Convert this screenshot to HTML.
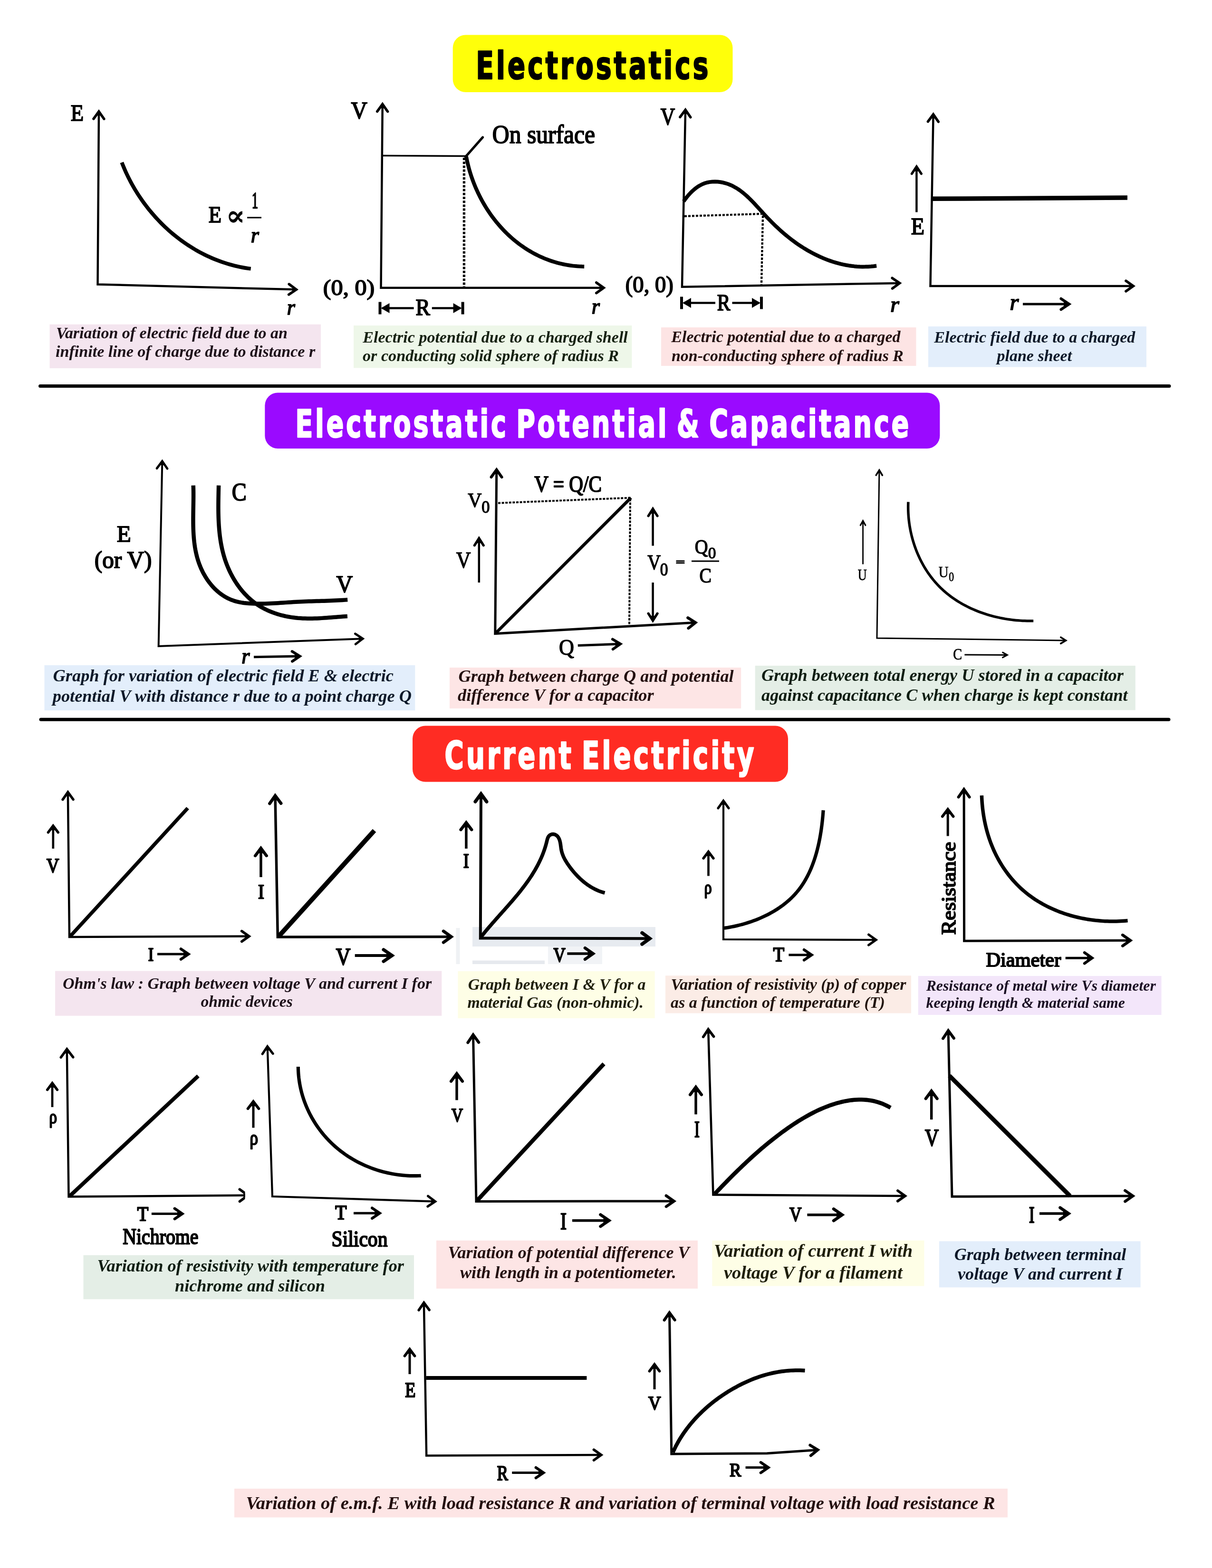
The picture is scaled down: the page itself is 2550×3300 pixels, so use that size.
<!DOCTYPE html>
<html lang="en">
<head>
<meta charset="utf-8">
<title>Graphs: Electrostatics, Capacitance, Current Electricity</title>
<style>
html,body{margin:0;padding:0;background:#fff;}
body{width:2550px;height:3300px;overflow:hidden;font-family:"Liberation Serif",serif;}
svg{display:block;position:absolute;left:0;top:0;}
svg path{fill:none;stroke:#000;}
svg text{white-space:pre;}
</style>
</head>
<body>
<svg width="2550" height="3300" viewBox="0 0 2550 3300">
<path d="M84.5 812.5L2460 812.5" stroke-width="7" stroke-linecap="round"/>
<path d="M86 1514.2L2459 1514.2" stroke-width="7" stroke-linecap="round"/>
<rect x="952.7" y="73.5" width="588.8" height="120.5" fill="#ffff0a" rx="27"/>
<text transform="translate(1001.58 165.92) scale(0.6076 0.8060)" font-family="&quot;DejaVu Sans Condensed&quot;, &quot;DejaVu Sans&quot;, sans-serif" font-size="100" font-weight="bold" font-style="normal" fill="#000" stroke="#000" stroke-width="2.4" stroke-linejoin="round" vector-effect="non-scaling-stroke" letter-spacing="8.5">Electrostatics</text>
<rect x="557.3" y="826.5" width="1420.1" height="117.5" fill="#9a0aff" rx="27"/>
<text transform="translate(621.58 919.92) scale(0.5971 0.7923)" font-family="&quot;DejaVu Sans Condensed&quot;, &quot;DejaVu Sans&quot;, sans-serif" font-size="100" font-weight="bold" font-style="normal" fill="#fff" stroke="#fff" stroke-width="2.4" stroke-linejoin="round" vector-effect="non-scaling-stroke" letter-spacing="8.5" word-spacing="-12">Electrostatic Potential &amp; Capacitance</text>
<rect x="868" y="1527.5" width="790" height="118.1" fill="#ff2c23" rx="27"/>
<text transform="translate(935.58 1618.42) scale(0.6083 0.8060)" font-family="&quot;DejaVu Sans Condensed&quot;, &quot;DejaVu Sans&quot;, sans-serif" font-size="100" font-weight="bold" font-style="normal" fill="#fff" stroke="#fff" stroke-width="2.4" stroke-linejoin="round" vector-effect="non-scaling-stroke" letter-spacing="8.5" word-spacing="-12">Current Electricity</text>
<rect x="104.5" y="682.7" width="570.5" height="92.3" fill="#f4e5ef"/>
<text x="118" y="712" font-family="&quot;Liberation Serif&quot;, serif" font-size="33.98" font-weight="bold" font-style="italic" fill="#1c0f18">Variation of electric field due to an</text>
<text x="117" y="750.5" font-family="&quot;Liberation Serif&quot;, serif" font-size="34.1" font-weight="bold" font-style="italic" fill="#1c0f18">infinite line of charge due to distance r</text>
<rect x="744" y="685" width="585.4" height="89.4" fill="#eef7e9"/>
<text x="763.34" y="721" font-family="&quot;Liberation Serif&quot;, serif" font-size="34.02" font-weight="bold" font-style="italic" fill="#14200f">Electric potential due to a charged shell</text>
<text x="763" y="760" font-family="&quot;Liberation Serif&quot;, serif" font-size="34.16" font-weight="bold" font-style="italic" fill="#14200f">or conducting solid sphere of radius R</text>
<rect x="1391" y="689" width="536.5" height="81" fill="#fde4e4"/>
<text x="1412.34" y="720" font-family="&quot;Liberation Serif&quot;, serif" font-size="33.97" font-weight="bold" font-style="italic" fill="#220d0d">Electric potential due to a charged</text>
<text x="1413" y="760" font-family="&quot;Liberation Serif&quot;, serif" font-size="33.91" font-weight="bold" font-style="italic" fill="#220d0d">non-conducting sphere of radius R</text>
<rect x="1953" y="687" width="459" height="85.5" fill="#e3eefb"/>
<text x="1965.34" y="721" font-family="&quot;Liberation Serif&quot;, serif" font-size="34.08" font-weight="bold" font-style="italic" fill="#0c1828">Electric field due to a charged</text>
<text x="2097.55" y="760" font-family="&quot;Liberation Serif&quot;, serif" font-size="33.97" font-weight="bold" font-style="italic" fill="#0c1828">plane sheet</text>
<rect x="93.5" y="1400" width="779.8" height="95.2" fill="#e3eefb"/>
<text x="111.6" y="1434" font-family="&quot;Liberation Serif&quot;, serif" font-size="36.33" font-weight="bold" font-style="italic" fill="#0c1828">Graph for variation of electric field E &amp; electric</text>
<text x="110.73" y="1476.5" font-family="&quot;Liberation Serif&quot;, serif" font-size="36.38" font-weight="bold" font-style="italic" fill="#0c1828">potential V with distance r due to a point charge Q</text>
<rect x="946" y="1405" width="613.2" height="86" fill="#fde5e5"/>
<text x="964.6" y="1435" font-family="&quot;Liberation Serif&quot;, serif" font-size="36.25" font-weight="bold" font-style="italic" fill="#220d0d">Graph between charge Q and potential</text>
<text x="963" y="1475" font-family="&quot;Liberation Serif&quot;, serif" font-size="36.36" font-weight="bold" font-style="italic" fill="#220d0d">difference V for a capacitor</text>
<rect x="1588.7" y="1401" width="800.1" height="93.5" fill="#e4eee6"/>
<text x="1602" y="1432.8" font-family="&quot;Liberation Serif&quot;, serif" font-size="36.29" font-weight="bold" font-style="italic" fill="#0d1c10">Graph between total energy U stored in a capacitor</text>
<text x="1602" y="1475" font-family="&quot;Liberation Serif&quot;, serif" font-size="36.28" font-weight="bold" font-style="italic" fill="#0d1c10">against capacitance C when charge is kept constant</text>
<rect x="116" y="2043.5" width="813.3" height="94.3" fill="#f4e5ef"/>
<text x="132" y="2080.5" font-family="&quot;Liberation Serif&quot;, serif" font-size="34.02" font-weight="bold" font-style="italic" fill="#1c0f18">Ohm's law : Graph between voltage V and current I for</text>
<text x="422.4" y="2118.7" font-family="&quot;Liberation Serif&quot;, serif" font-size="33.67" font-weight="bold" font-style="italic" fill="#1c0f18">ohmic devices</text>
<rect x="963.4" y="2044" width="414.2" height="99" fill="#fefee6"/>
<text x="984.7" y="2083" font-family="&quot;Liberation Serif&quot;, serif" font-size="33.87" font-weight="bold" font-style="italic" fill="#1e1e0a">Graph between I &amp; V for a</text>
<text x="983.6" y="2121.4" font-family="&quot;Liberation Serif&quot;, serif" font-size="33.75" font-weight="bold" font-style="italic" fill="#1e1e0a">material Gas (non-ohmic).</text>
<rect x="1400" y="2053.3" width="517" height="79.1" fill="#fbece6"/>
<text x="1411.4" y="2083" font-family="&quot;Liberation Serif&quot;, serif" font-size="33.96" font-weight="bold" font-style="italic" fill="#20120c">Variation of resistivity (p) of copper</text>
<text x="1411" y="2121.4" font-family="&quot;Liberation Serif&quot;, serif" font-size="34.04" font-weight="bold" font-style="italic" fill="#20120c">as a function of temperature (T)</text>
<rect x="1931.7" y="2054" width="511.9" height="82" fill="#f3e6fa"/>
<text x="1948.66" y="2084.5" font-family="&quot;Liberation Serif&quot;, serif" font-size="31.8" font-weight="bold" font-style="italic" fill="#190d22">Resistance of metal wire Vs diameter</text>
<text x="1948.5" y="2120.8" font-family="&quot;Liberation Serif&quot;, serif" font-size="31.79" font-weight="bold" font-style="italic" fill="#190d22">keeping length &amp; material same</text>
<rect x="175.5" y="2641.6" width="695.5" height="92.7" fill="#e4eee6"/>
<text x="204.4" y="2676" font-family="&quot;Liberation Serif&quot;, serif" font-size="36.26" font-weight="bold" font-style="italic" fill="#0d1c10">Variation of resistivity with temperature for</text>
<text x="368" y="2718" font-family="&quot;Liberation Serif&quot;, serif" font-size="36.22" font-weight="bold" font-style="italic" fill="#0d1c10">nichrome and silicon</text>
<rect x="918" y="2610.7" width="550" height="101.3" fill="#fde5e5"/>
<text x="942.5" y="2647.8" font-family="&quot;Liberation Serif&quot;, serif" font-size="36.05" font-weight="bold" font-style="italic" fill="#220d0d">Variation of potential difference V</text>
<text x="968" y="2689.7" font-family="&quot;Liberation Serif&quot;, serif" font-size="36.15" font-weight="bold" font-style="italic" fill="#220d0d">with length in a potentiometer.</text>
<rect x="1498.4" y="2610.7" width="446.1" height="95.9" fill="#fefee6"/>
<text x="1502" y="2645" font-family="&quot;Liberation Serif&quot;, serif" font-size="38.38" font-weight="bold" font-style="italic" fill="#1e1e0a">Variation of current I with</text>
<text x="1523" y="2691" font-family="&quot;Liberation Serif&quot;, serif" font-size="38.51" font-weight="bold" font-style="italic" fill="#1e1e0a">voltage V for a filament</text>
<rect x="1976" y="2612.3" width="423.6" height="97.1" fill="#e3eefb"/>
<text x="2007.7" y="2651.6" font-family="&quot;Liberation Serif&quot;, serif" font-size="36.17" font-weight="bold" font-style="italic" fill="#0c1828">Graph between terminal</text>
<text x="2015" y="2693" font-family="&quot;Liberation Serif&quot;, serif" font-size="36.16" font-weight="bold" font-style="italic" fill="#0c1828">voltage V and current I</text>
<rect x="493" y="3133" width="1627" height="60.5" fill="#fde5e5"/>
<text x="517.4" y="3176" font-family="&quot;Liberation Serif&quot;, serif" font-size="38.6" font-weight="bold" font-style="italic" fill="#220d0d">Variation of e.m.f. E with load resistance R and variation of terminal voltage with load resistance R</text>
<path d="M207.96 235.16L205.5 598.5L622.84 609.37" stroke-width="4.5" stroke-linejoin="miter"/>
<path d="M213.42 242.44L207.97 234.66L202.42 242.36L207.91 243.48Z" style="fill:#000;stroke:none"/>
<path d="M218.86 250.22L207.97 234.66L196.86 250.07" stroke-width="5.4" stroke-linecap="round" stroke-linejoin="miter"/>
<path d="M615.46 614.68L623.34 609.38L615.75 603.68L614.52 609.15Z" style="fill:#000;stroke:none"/>
<path d="M607.58 619.97L623.34 609.38L608.15 597.98" stroke-width="5.4" stroke-linecap="round" stroke-linejoin="miter"/>
<path d="M256.28 341.9L258.35 347.16L260.5 352.39L262.74 357.59L265.05 362.76L267.45 367.89L269.93 372.99L272.49 378.05L275.13 383.07L277.84 388.05L280.63 393L283.5 397.9L286.44 402.75L289.46 407.57L292.55 412.33L295.71 417.05L298.95 421.72L302.26 426.35L305.63 430.92L309.08 435.44L312.59 439.91L316.17 444.32L319.82 448.68L323.54 452.98L327.32 457.22L331.16 461.4L335.07 465.53L339.03 469.59L343.06 473.58L347.16 477.52L351.31 481.38L355.52 485.18L359.79 488.92L364.11 492.58L368.49 496.17L372.93 499.69L377.42 503.14L381.97 506.51L386.57 509.81L391.22 513.03L395.92 516.17L400.68 519.23L405.48 522.21L410.33 525.11L415.23 527.93L420.18 530.66L425.17 533.3L430.21 535.86L435.29 538.33L440.42 540.72L445.59 543.01L450.8 545.21L456.05 547.31L461.34 549.32L466.67 551.24L472.04 553.06L477.45 554.78L482.89 556.4L488.37 557.92L493.89 559.33L499.44 560.65L505.02 561.86L510.64 562.96L516.28 563.96L521.96 564.85L527.67 565.63" stroke-width="8" stroke-linecap="butt" stroke-linejoin="round"/>
<text transform="translate(148.85 254.15) scale(0.4474 0.4930)" font-family="&quot;Liberation Serif&quot;, serif" font-size="100" font-weight="normal" font-style="normal" fill="#000" stroke="#000" stroke-width="1.9" stroke-linejoin="round" vector-effect="non-scaling-stroke">E</text>
<text transform="translate(438.86 468.14) scale(0.4474 0.4930)" font-family="&quot;Liberation Serif&quot;, serif" font-size="100" font-weight="normal" font-style="normal" fill="#000" stroke="#000" stroke-width="1.9" stroke-linejoin="round" vector-effect="non-scaling-stroke">E</text>
<text transform="translate(475.43 473.77) scale(0.5993 0.5910)" font-family="&quot;DejaVu Serif&quot;, serif" font-size="100" font-weight="bold" font-style="normal" fill="#000" stroke="#000" stroke-width="0.5" stroke-linejoin="round" vector-effect="non-scaling-stroke">∝</text>
<text transform="translate(529.86 438.14) scale(0.2658 0.4892)" font-family="&quot;Liberation Serif&quot;, serif" font-size="100" font-weight="normal" font-style="normal" fill="#000" stroke="#000" stroke-width="1.9" stroke-linejoin="round" vector-effect="non-scaling-stroke">1</text>
<path d="M520 458L550 458" stroke-width="3" stroke-linecap="butt" />
<text transform="translate(527.81 510.19) scale(0.4400 0.4549)" font-family="&quot;Liberation Serif&quot;, serif" font-size="100" font-weight="normal" font-style="italic" fill="#000" stroke="#000" stroke-width="1.8" stroke-linejoin="round" vector-effect="non-scaling-stroke">r</text>
<text transform="translate(603.81 662.19) scale(0.4400 0.4549)" font-family="&quot;Liberation Serif&quot;, serif" font-size="100" font-weight="normal" font-style="italic" fill="#000" stroke="#000" stroke-width="1.8" stroke-linejoin="round" vector-effect="non-scaling-stroke">r</text>
<path d="M804.76 219.66L801.5 605.7L1269.64 605.7" stroke-width="4.5" stroke-linejoin="miter"/>
<path d="M810.2 226.95L804.76 219.16L799.2 226.85L804.69 227.98Z" style="fill:#000;stroke:none"/>
<path d="M815.63 234.73L804.76 219.16L793.63 234.55" stroke-width="5.4" stroke-linecap="round" stroke-linejoin="miter"/>
<path d="M1262.4 611.2L1270.14 605.7L1262.4 600.2L1261.32 605.7Z" style="fill:#000;stroke:none"/>
<path d="M1254.66 616.7L1270.14 605.7L1254.66 594.7" stroke-width="5.4" stroke-linecap="round" stroke-linejoin="miter"/>
<path d="M804 327.5L980.4 328.5" stroke-width="3.6" stroke-linecap="butt" />
<path d="M979.5 330L1015.6 289" stroke-width="5" stroke-linecap="round" />
<path d="M976.4 332L976.4 604" stroke-width="5.2" stroke-dasharray="5 3.2"/>
<path d="M980.99 329.57L981.88 334.2L982.85 338.83L983.88 343.45L985 348.05L986.18 352.65L987.44 357.23L988.77 361.79L990.18 366.34L991.65 370.87L993.2 375.38L994.81 379.87L996.5 384.34L998.25 388.79L1000.07 393.21L1001.97 397.6L1003.93 401.96L1005.95 406.3L1008.05 410.61L1010.21 414.88L1012.43 419.12L1014.72 423.33L1017.08 427.5L1019.5 431.63L1021.98 435.72L1024.53 439.78L1027.13 443.79L1029.81 447.75L1032.54 451.68L1035.33 455.55L1038.19 459.38L1041.1 463.16L1044.08 466.89L1047.11 470.57L1050.2 474.2L1053.35 477.77L1056.56 481.28L1059.82 484.74L1063.14 488.14L1066.52 491.48L1069.95 494.75L1073.44 497.97L1076.98 501.12L1080.58 504.2L1084.23 507.22L1087.93 510.17L1091.68 513.05L1095.48 515.86L1099.33 518.59L1103.23 521.26L1107.18 523.85L1111.18 526.36L1115.22 528.79L1119.31 531.15L1123.44 533.43L1127.62 535.63L1131.84 537.74L1136.11 539.77L1140.41 541.72L1144.76 543.58L1149.15 545.36L1153.58 547.04L1158.04 548.64L1162.55 550.14L1167.09 551.55L1171.67 552.87L1176.29 554.09L1180.94 555.22L1185.62 556.25L1190.34 557.18L1195.09 558.01L1199.87 558.74L1204.69 559.37L1209.53 559.89L1214.41 560.31L1219.31 560.62L1224.25 560.83L1229.21 560.92" stroke-width="8" stroke-linecap="butt" stroke-linejoin="round"/>
<text transform="translate(738.56 249.38) scale(0.4762 0.5118)" font-family="&quot;Liberation Serif&quot;, serif" font-size="100" font-weight="normal" font-style="normal" fill="#000" stroke="#000" stroke-width="1.9" stroke-linejoin="round" vector-effect="non-scaling-stroke">V</text>
<text transform="translate(1035.86 300.6) scale(0.4961 0.5416)" font-family="&quot;Liberation Serif&quot;, serif" font-size="100" font-weight="normal" font-style="normal" fill="#000" stroke="#000" stroke-width="1.9" stroke-linejoin="round" vector-effect="non-scaling-stroke">On surface</text>
<text transform="translate(679.86 621.39) scale(0.5002 0.4537)" font-family="&quot;Liberation Serif&quot;, serif" font-size="100" font-weight="normal" font-style="normal" fill="#000" stroke="#000" stroke-width="1.9" stroke-linejoin="round" vector-effect="non-scaling-stroke">(0, 0)</text>
<text transform="translate(1244.81 660.19) scale(0.4400 0.4549)" font-family="&quot;Liberation Serif&quot;, serif" font-size="100" font-weight="normal" font-style="italic" fill="#000" stroke="#000" stroke-width="1.8" stroke-linejoin="round" vector-effect="non-scaling-stroke">r</text>
<path d="M799.5 635.5L799.5 661.5" stroke-width="6" stroke-linecap="butt" />
<path d="M973.6 635.5L973.6 661.5" stroke-width="6" stroke-linecap="butt" />
<path d="M804.5 648.5L870.6 648.5" stroke-width="4.6" stroke-linecap="butt" />
<path d="M908.8 648.5L968.6 648.5" stroke-width="4.6" stroke-linecap="butt" />
<path d="M801.5 648.5L819.5 638L819.5 659Z" style="fill:#000;stroke:none"/>
<path d="M971.6 648.5L953.6 638L953.6 659Z" style="fill:#000;stroke:none"/>
<text transform="translate(874.46 663.14) scale(0.4551 0.4853)" font-family="&quot;Liberation Serif&quot;, serif" font-size="100" font-weight="normal" font-style="normal" fill="#000" stroke="#000" stroke-width="1.9" stroke-linejoin="round" vector-effect="non-scaling-stroke">R</text>
<path d="M1442.1 231.66L1435 603.7L1892.34 595.89" stroke-width="4.5" stroke-linejoin="miter"/>
<path d="M1447.46 239L1442.11 231.16L1436.46 238.79L1441.94 239.98Z" style="fill:#000;stroke:none"/>
<path d="M1452.81 246.85L1442.11 231.16L1430.82 246.43" stroke-width="5.4" stroke-linecap="round" stroke-linejoin="miter"/>
<path d="M1885.19 601.51L1892.84 595.88L1885.01 590.51L1884.02 596.03Z" style="fill:#000;stroke:none"/>
<path d="M1877.55 607.14L1892.84 595.88L1877.17 585.15" stroke-width="5.4" stroke-linecap="round" stroke-linejoin="miter"/>
<path d="M1438.45 423.81L1441.63 419.29L1445.1 414.75L1448.86 410.25L1452.88 405.87L1457.16 401.67L1461.68 397.73L1466.42 394.12L1471.37 390.91L1476.51 388.16L1481.84 385.94L1487.32 384.27L1492.91 383.11L1498.59 382.45L1504.32 382.26L1510.06 382.52L1515.78 383.21L1521.44 384.29L1527.01 385.76L1532.46 387.57L1537.75 389.72L1542.87 392.17L1547.83 394.9L1552.64 397.9L1557.33 401.13L1561.88 404.58L1566.33 408.23L1570.68 412.05L1574.94 416.01L1579.13 420.1L1583.24 424.29L1587.31 428.57L1591.34 432.9L1595.33 437.27L1599.31 441.65L1603.28 446.02L1607.25 450.37L1611.24 454.66L1615.25 458.89L1619.29 463.07L1623.35 467.19L1627.45 471.26L1631.58 475.26L1635.75 479.21L1639.97 483.1L1644.23 486.92L1648.55 490.69L1652.92 494.39L1657.35 498.03L1661.85 501.6L1666.41 505.1L1671.04 508.54L1675.72 511.9L1680.47 515.18L1685.28 518.38L1690.15 521.5L1695.08 524.53L1700.06 527.46L1705.09 530.3L1710.17 533.04L1715.31 535.68L1720.5 538.21L1725.73 540.63L1731.01 542.94L1736.34 545.12L1741.71 547.19L1747.12 549.13L1752.58 550.95L1758.07 552.63L1763.6 554.17L1769.17 555.58L1774.77 556.84L1780.4 557.96L1786.07 558.93L1791.77 559.74L1797.5 560.4L1803.25 560.89L1809.03 561.22L1814.84 561.38L1820.67 561.37L1826.52 561.19L1832.39 560.82L1838.28 560.28L1844.19 559.54" stroke-width="8" stroke-linecap="butt" stroke-linejoin="round"/>
<path d="M1440 455L1603 450" stroke-width="4.3" stroke-dasharray="5 3"/>
<path d="M1605 454L1602 599" stroke-width="4.3" stroke-dasharray="5 3"/>
<text transform="translate(1389.86 262.38) scale(0.4207 0.5118)" font-family="&quot;Liberation Serif&quot;, serif" font-size="100" font-weight="normal" font-style="normal" fill="#000" stroke="#000" stroke-width="1.9" stroke-linejoin="round" vector-effect="non-scaling-stroke">V</text>
<text transform="translate(1315.86 615.3) scale(0.4655 0.4812)" font-family="&quot;Liberation Serif&quot;, serif" font-size="100" font-weight="normal" font-style="normal" fill="#000" stroke="#000" stroke-width="1.9" stroke-linejoin="round" vector-effect="non-scaling-stroke">(0, 0)</text>
<text transform="translate(1873.31 656.19) scale(0.4780 0.4549)" font-family="&quot;Liberation Serif&quot;, serif" font-size="100" font-weight="normal" font-style="italic" fill="#000" stroke="#000" stroke-width="1.8" stroke-linejoin="round" vector-effect="non-scaling-stroke">r</text>
<path d="M1434 624.5L1434 650.5" stroke-width="6" stroke-linecap="butt" />
<path d="M1602 624.5L1602 650.5" stroke-width="6" stroke-linecap="butt" />
<path d="M1439 637.5L1505 637.5" stroke-width="4.6" stroke-linecap="butt" />
<path d="M1540.5 637.5L1597 637.5" stroke-width="4.6" stroke-linecap="butt" />
<path d="M1436 637.5L1454 627L1454 648Z" style="fill:#000;stroke:none"/>
<path d="M1600 637.5L1582 627L1582 648Z" style="fill:#000;stroke:none"/>
<text transform="translate(1508.86 653.14) scale(0.4148 0.4853)" font-family="&quot;Liberation Serif&quot;, serif" font-size="100" font-weight="normal" font-style="normal" fill="#000" stroke="#000" stroke-width="1.9" stroke-linejoin="round" vector-effect="non-scaling-stroke">R</text>
<path d="M1963.61 241.16L1957.5 602L2383.84 602" stroke-width="4.5" stroke-linejoin="miter"/>
<path d="M1968.99 248.49L1963.62 240.66L1957.99 248.31L1963.47 249.48Z" style="fill:#000;stroke:none"/>
<path d="M1974.36 256.32L1963.62 240.66L1952.36 255.95" stroke-width="5.4" stroke-linecap="round" stroke-linejoin="miter"/>
<path d="M2376.6 607.5L2384.34 602L2376.6 596.5L2375.52 602Z" style="fill:#000;stroke:none"/>
<path d="M2368.86 613L2384.34 602L2368.86 591" stroke-width="5.4" stroke-linecap="round" stroke-linejoin="miter"/>
<path d="M1960 418.3L2372 416" stroke-width="9.5" stroke-linecap="butt" />
<path d="M1928.4 446.5L1928.4 351.17" stroke-width="4.5" stroke-linecap="butt" />
<path d="M1934.58 359.97L1928.4 350.67L1922.22 359.97L1928.4 361.01Z" style="fill:#000;stroke:none"/>
<path d="M1938.38 365.67L1928.4 350.67L1918.43 365.67" stroke-width="5.17" stroke-linecap="round" stroke-linejoin="miter"/>
<text transform="translate(1916.86 493.14) scale(0.4638 0.4976)" font-family="&quot;Liberation Serif&quot;, serif" font-size="100" font-weight="normal" font-style="normal" fill="#000" stroke="#000" stroke-width="1.9" stroke-linejoin="round" vector-effect="non-scaling-stroke">E</text>
<text transform="translate(2124.51 652.19) scale(0.4856 0.4868)" font-family="&quot;Liberation Serif&quot;, serif" font-size="100" font-weight="normal" font-style="italic" fill="#000" stroke="#000" stroke-width="1.8" stroke-linejoin="round" vector-effect="non-scaling-stroke">r</text>
<path d="M2152 640L2248.84 640" stroke-width="5" stroke-linecap="butt" />
<path d="M2238.8 647.07L2249.34 640L2238.8 632.93L2237.65 640Z" style="fill:#000;stroke:none"/>
<path d="M2232.34 651.4L2249.34 640L2232.34 628.6" stroke-width="5.75" stroke-linecap="round" stroke-linejoin="miter"/>
<path d="M341.31 971.04L333.6 1360L762.76 1344.17" stroke-width="4" stroke-linejoin="miter"/>
<path d="M346.66 978.39L341.32 970.54L335.67 978.17L341.15 979.24Z" style="fill:#000;stroke:none"/>
<path d="M352.01 986.24L341.32 970.54L330.01 985.8" stroke-width="4.8" stroke-linecap="round" stroke-linejoin="miter"/>
<path d="M755.73 1349.93L763.26 1344.15L755.32 1338.94L754.57 1344.47Z" style="fill:#000;stroke:none"/>
<path d="M748.2 1355.72L763.26 1344.15L747.38 1333.73" stroke-width="4.8" stroke-linecap="round" stroke-linejoin="miter"/>
<path d="M406.71 1021.59L406.88 1026.81L407 1032.08L407.06 1037.38L407.07 1042.72L407.04 1048.09L406.99 1053.49L406.91 1058.92L406.82 1064.36L406.73 1069.83L406.64 1075.32L406.56 1080.81L406.5 1086.32L406.46 1091.84L406.47 1097.36L406.51 1102.88L406.61 1108.4L406.77 1113.91L407 1119.42L407.31 1124.91L407.7 1130.39L408.18 1135.86L408.76 1141.3L409.46 1146.72L410.27 1152.12L411.21 1157.48L412.28 1162.81L413.5 1168.11L414.87 1173.37L416.39 1178.58L418.08 1183.76L419.95 1188.88L422 1193.95L424.22 1198.95L426.62 1203.88L429.19 1208.71L431.94 1213.45L434.85 1218.07L437.92 1222.57L441.16 1226.93L444.57 1231.14L448.13 1235.2L451.85 1239.08L455.72 1242.78L459.75 1246.28L463.92 1249.58L468.24 1252.65L472.71 1255.5L477.32 1258.1L482.07 1260.45L486.97 1262.54L491.99 1264.34L497.15 1265.87L502.42 1267.12L507.79 1268.14L513.24 1268.94L518.75 1269.56L524.3 1270L529.87 1270.31L535.44 1270.5L541 1270.6L546.54 1270.62L552.06 1270.57L557.56 1270.46L563.05 1270.29L568.51 1270.07L573.97 1269.81L579.42 1269.52L584.85 1269.2L590.27 1268.85L595.69 1268.49L601.1 1268.13L606.5 1267.76L611.91 1267.41L617.31 1267.06L622.7 1266.74L628.1 1266.45L633.51 1266.19L638.91 1265.96L644.32 1265.75L649.73 1265.56L655.14 1265.4L660.55 1265.24L665.97 1265.09L671.39 1264.94L676.82 1264.79L682.24 1264.64L687.67 1264.47L693.1 1264.29L698.54 1264.09L703.98 1263.86L709.42 1263.61L714.87 1263.32L720.32 1262.99L725.77 1262.62L731.23 1262.2" stroke-width="8.5" stroke-linecap="butt" stroke-linejoin="round"/>
<path d="M460.07 1021.64L459.98 1026.45L459.88 1031.28L459.77 1036.14L459.68 1041.02L459.59 1045.92L459.51 1050.84L459.45 1055.77L459.41 1060.71L459.39 1065.67L459.4 1070.64L459.43 1075.61L459.51 1080.6L459.62 1085.59L459.77 1090.58L459.97 1095.57L460.21 1100.57L460.51 1105.56L460.87 1110.55L461.28 1115.54L461.76 1120.51L462.31 1125.48L462.93 1130.44L463.63 1135.39L464.4 1140.32L465.26 1145.24L466.21 1150.14L467.24 1155.03L468.37 1159.89L469.6 1164.73L470.93 1169.54L472.36 1174.33L473.9 1179.1L475.56 1183.83L477.32 1188.53L479.2 1193.19L481.19 1197.8L483.28 1202.37L485.48 1206.88L487.8 1211.33L490.21 1215.72L492.74 1220.04L495.37 1224.29L498.1 1228.47L500.94 1232.55L503.88 1236.56L506.92 1240.47L510.07 1244.28L513.32 1247.99L516.66 1251.6L520.11 1255.09L523.66 1258.47L527.3 1261.73L531.04 1264.86L534.88 1267.86L538.82 1270.73L542.85 1273.46L546.97 1276.05L551.17 1278.51L555.46 1280.83L559.83 1283.02L564.27 1285.09L568.78 1287.02L573.35 1288.82L577.98 1290.5L582.67 1292.06L587.41 1293.49L592.21 1294.8L597.04 1295.99L601.91 1297.07L606.82 1298.02L611.76 1298.86L616.73 1299.59L621.72 1300.2L626.72 1300.71L631.74 1301.1L636.78 1301.39L641.82 1301.59L646.86 1301.7L651.91 1301.72L656.96 1301.67L662.01 1301.56L667.05 1301.38L672.09 1301.16L677.11 1300.88L682.12 1300.57L687.12 1300.23L692.09 1299.86L697.05 1299.48L701.98 1299.09L706.88 1298.69L711.76 1298.3L716.6 1297.92L721.4 1297.56L726.17 1297.23L730.9 1296.92" stroke-width="8.5" stroke-linecap="butt" stroke-linejoin="round"/>
<text transform="translate(487.86 1052.62) scale(0.4645 0.5207)" font-family="&quot;Liberation Serif&quot;, serif" font-size="100" font-weight="normal" font-style="normal" fill="#000" stroke="#000" stroke-width="1.9" stroke-linejoin="round" vector-effect="non-scaling-stroke">C</text>
<text transform="translate(707.56 1246.37) scale(0.4804 0.5148)" font-family="&quot;Liberation Serif&quot;, serif" font-size="100" font-weight="normal" font-style="normal" fill="#000" stroke="#000" stroke-width="1.9" stroke-linejoin="round" vector-effect="non-scaling-stroke">V</text>
<text transform="translate(245.85 1140.14) scale(0.4916 0.4930)" font-family="&quot;Liberation Serif&quot;, serif" font-size="100" font-weight="normal" font-style="normal" fill="#000" stroke="#000" stroke-width="1.9" stroke-linejoin="round" vector-effect="non-scaling-stroke">E</text>
<text transform="translate(198.85 1195.44) scale(0.4920 0.4977)" font-family="&quot;Liberation Serif&quot;, serif" font-size="100" font-weight="normal" font-style="normal" fill="#000" stroke="#000" stroke-width="1.9" stroke-linejoin="round" vector-effect="non-scaling-stroke">(or V)</text>
<text transform="translate(508.31 1395.69) scale(0.4400 0.4549)" font-family="&quot;Liberation Serif&quot;, serif" font-size="100" font-weight="normal" font-style="italic" fill="#000" stroke="#000" stroke-width="1.8" stroke-linejoin="round" vector-effect="non-scaling-stroke">r</text>
<path d="M534 1382.8L630.24 1381.1" stroke-width="5" stroke-linecap="butt" />
<path d="M620.94 1387.75L630.74 1381.09L620.71 1374.79L619.67 1381.29Z" style="fill:#000;stroke:none"/>
<path d="M614.93 1391.82L630.74 1381.09L614.56 1370.93" stroke-width="5.75" stroke-linecap="round" stroke-linejoin="miter"/>
<path d="M1044.75 989.08L1041.8 1333.5L1462.73 1310.31" stroke-width="5" stroke-linejoin="miter"/>
<path d="M1050.19 996.37L1044.76 988.58L1039.19 996.27L1044.68 997.52Z" style="fill:#000;stroke:none"/>
<path d="M1055.62 1004.15L1044.76 988.58L1033.62 1003.96" stroke-width="6" stroke-linecap="round" stroke-linejoin="miter"/>
<path d="M1455.8 1316.2L1463.23 1310.28L1455.2 1305.22L1454.3 1310.78Z" style="fill:#000;stroke:none"/>
<path d="M1448.38 1322.12L1463.23 1310.28L1447.17 1300.15" stroke-width="6" stroke-linecap="round" stroke-linejoin="miter"/>
<path d="M1043 1332.5L1327.5 1047.6" stroke-width="6.5" stroke-linecap="butt" />
<path d="M1048 1058.7L1327.5 1047.6" stroke-width="4" stroke-dasharray="5 2.6"/>
<path d="M1326 1050L1324 1318" stroke-width="4" stroke-dasharray="5 2.6"/>
<text transform="translate(984.23 1066.75) scale(0.4047 0.4140)" font-family="&quot;Liberation Serif&quot;, serif" font-size="100" font-weight="normal" font-style="normal" fill="#000" stroke="#000" stroke-width="1.4" stroke-linejoin="round" vector-effect="non-scaling-stroke">V</text>
<text transform="translate(1013.13 1079) scale(0.3448 0.3665)" font-family="&quot;Liberation Serif&quot;, serif" font-size="100" font-weight="normal" font-style="normal" fill="#000" stroke="#000" stroke-width="1.4" stroke-linejoin="round" vector-effect="non-scaling-stroke">0</text>
<text transform="translate(1124.36 1035.42) scale(0.4122 0.4819)" font-family="&quot;Liberation Serif&quot;, serif" font-size="100" font-weight="normal" font-style="normal" fill="#000" stroke="#000" stroke-width="1.9" stroke-linejoin="round" vector-effect="non-scaling-stroke">V = Q/C</text>
<text transform="translate(959.63 1194.64) scale(0.4269 0.4887)" font-family="&quot;Liberation Serif&quot;, serif" font-size="100" font-weight="normal" font-style="normal" fill="#000" stroke="#000" stroke-width="1.4" stroke-linejoin="round" vector-effect="non-scaling-stroke">V</text>
<path d="M1007.8 1226L1007.8 1133.34" stroke-width="4.5" stroke-linecap="butt" />
<path d="M1013.69 1142.14L1007.8 1132.84L1001.91 1142.14L1007.8 1143.17Z" style="fill:#000;stroke:none"/>
<path d="M1017.3 1147.84L1007.8 1132.84L998.3 1147.84" stroke-width="5.17" stroke-linecap="round" stroke-linejoin="miter"/>
<path d="M1373.6 1148.6L1373.6 1071.34" stroke-width="4.5" stroke-linecap="butt" />
<path d="M1379.49 1080.14L1373.6 1070.84L1367.71 1080.14L1373.6 1081.17Z" style="fill:#000;stroke:none"/>
<path d="M1383.1 1085.84L1373.6 1070.84L1364.1 1085.84" stroke-width="5.17" stroke-linecap="round" stroke-linejoin="miter"/>
<path d="M1373.6 1226L1373.6 1305.66" stroke-width="4.5" stroke-linecap="butt" />
<path d="M1367.71 1296.86L1373.6 1306.16L1379.49 1296.86L1373.6 1295.83Z" style="fill:#000;stroke:none"/>
<path d="M1364.1 1291.16L1373.6 1306.16L1383.1 1291.16" stroke-width="5.17" stroke-linecap="round" stroke-linejoin="miter"/>
<text transform="translate(1362.13 1198.29) scale(0.3867 0.4528)" font-family="&quot;Liberation Serif&quot;, serif" font-size="100" font-weight="normal" font-style="normal" fill="#000" stroke="#000" stroke-width="1.4" stroke-linejoin="round" vector-effect="non-scaling-stroke">V</text>
<text transform="translate(1388.63 1210.99) scale(0.3348 0.3813)" font-family="&quot;Liberation Serif&quot;, serif" font-size="100" font-weight="normal" font-style="normal" fill="#000" stroke="#000" stroke-width="1.4" stroke-linejoin="round" vector-effect="non-scaling-stroke">0</text>
<text transform="translate(1421.99 1189.51) scale(0.3337 0.2155)" font-family="&quot;Liberation Serif&quot;, serif" font-size="100" font-weight="bold" font-style="normal" fill="#000" stroke="#000" stroke-width="2.2" stroke-linejoin="round" vector-effect="non-scaling-stroke">=</text>
<path d="M1455 1181L1513 1181" stroke-width="3" stroke-linecap="butt" />
<text transform="translate(1461.63 1165.49) scale(0.3853 0.4298)" font-family="&quot;Liberation Serif&quot;, serif" font-size="100" font-weight="normal" font-style="normal" fill="#000" stroke="#000" stroke-width="1.4" stroke-linejoin="round" vector-effect="non-scaling-stroke">Q</text>
<text transform="translate(1489.63 1174.54) scale(0.3348 0.3295)" font-family="&quot;Liberation Serif&quot;, serif" font-size="100" font-weight="normal" font-style="normal" fill="#000" stroke="#000" stroke-width="1.4" stroke-linejoin="round" vector-effect="non-scaling-stroke">0</text>
<text transform="translate(1471.43 1225.93) scale(0.3826 0.4439)" font-family="&quot;Liberation Serif&quot;, serif" font-size="100" font-weight="normal" font-style="normal" fill="#000" stroke="#000" stroke-width="1.4" stroke-linejoin="round" vector-effect="non-scaling-stroke">C</text>
<text transform="translate(1176.03 1378.45) scale(0.4422 0.4700)" font-family="&quot;Liberation Serif&quot;, serif" font-size="100" font-weight="normal" font-style="normal" fill="#000" stroke="#000" stroke-width="1.4" stroke-linejoin="round" vector-effect="non-scaling-stroke">Q</text>
<path d="M1215.8 1358.5L1304.75 1355.21" stroke-width="5" stroke-linecap="butt" />
<path d="M1295.57 1362.04L1305.25 1355.19L1295.09 1349.09L1294.18 1355.6Z" style="fill:#000;stroke:none"/>
<path d="M1289.64 1366.23L1305.25 1355.19L1288.87 1345.34" stroke-width="5.75" stroke-linecap="round" stroke-linejoin="miter"/>
<path d="M1849.94 989.94L1845 1343L2242.06 1347.95" stroke-width="3" stroke-linejoin="miter"/>
<path d="M1853.18 994.86L1849.95 989.44L1846.58 994.77L1849.87 995.53Z" style="fill:#000;stroke:none"/>
<path d="M1856.4 1000.28L1849.95 989.44L1843.2 1000.1" stroke-width="3.6" stroke-linecap="round" stroke-linejoin="miter"/>
<path d="M2237.14 1351.19L2242.56 1347.96L2237.23 1344.59L2236.47 1347.88Z" style="fill:#000;stroke:none"/>
<path d="M2231.73 1354.42L2242.56 1347.96L2231.89 1341.22" stroke-width="3.6" stroke-linecap="round" stroke-linejoin="miter"/>
<path d="M1910.93 1056.46L1910.77 1061.06L1910.69 1065.68L1910.71 1070.3L1910.81 1074.92L1911 1079.55L1911.27 1084.18L1911.63 1088.8L1912.08 1093.42L1912.61 1098.04L1913.22 1102.65L1913.93 1107.25L1914.71 1111.83L1915.58 1116.4L1916.54 1120.96L1917.57 1125.5L1918.69 1130.02L1919.9 1134.51L1921.18 1138.99L1922.55 1143.43L1924 1147.85L1925.53 1152.24L1927.14 1156.6L1928.83 1160.92L1930.6 1165.21L1932.46 1169.46L1934.39 1173.67L1936.4 1177.84L1938.49 1181.96L1940.66 1186.04L1942.9 1190.07L1945.23 1194.05L1947.63 1197.98L1950.11 1201.86L1952.66 1205.67L1955.29 1209.44L1958 1213.14L1960.79 1216.78L1963.65 1220.35L1966.58 1223.86L1969.59 1227.3L1972.67 1230.68L1975.83 1233.98L1979.06 1237.2L1982.37 1240.35L1985.74 1243.43L1989.19 1246.43L1992.7 1249.36L1996.27 1252.21L1999.91 1254.99L2003.61 1257.69L2007.37 1260.32L2011.18 1262.88L2015.05 1265.36L2018.97 1267.76L2022.95 1270.1L2026.97 1272.36L2031.04 1274.54L2035.16 1276.66L2039.31 1278.7L2043.51 1280.67L2047.75 1282.56L2052.02 1284.38L2056.33 1286.13L2060.68 1287.81L2065.05 1289.42L2069.45 1290.95L2073.89 1292.41L2078.34 1293.8L2082.82 1295.12L2087.32 1296.36L2091.84 1297.54L2096.37 1298.64L2100.93 1299.68L2105.49 1300.64L2110.07 1301.53L2114.65 1302.35L2119.24 1303.1L2123.84 1303.78L2128.44 1304.38L2133.05 1304.92L2137.65 1305.39L2142.25 1305.79L2146.84 1306.12L2151.43 1306.38L2156.01 1306.57L2160.58 1306.69L2165.13 1306.74L2169.67 1306.73L2174.2 1306.64" stroke-width="5.5" stroke-linecap="butt" stroke-linejoin="round"/>
<text transform="translate(1804.72 1220.84) scale(0.2635 0.3439)" font-family="&quot;Liberation Serif&quot;, serif" font-size="100" font-weight="normal" font-style="normal" fill="#000" stroke="#000" stroke-width="0.7" stroke-linejoin="round" vector-effect="non-scaling-stroke">U</text>
<path d="M1815.6 1187.5L1815.6 1096.5" stroke-width="2.8" stroke-linecap="butt" />
<path d="M1818.87 1101.87L1815.6 1096L1812.33 1101.87L1815.6 1102.51Z" style="fill:#000;stroke:none"/>
<path d="M1820.88 1105.46L1815.6 1096L1810.32 1105.46" stroke-width="3.22" stroke-linecap="round" stroke-linejoin="miter"/>
<text transform="translate(1974.82 1215.35) scale(0.2899 0.3364)" font-family="&quot;Liberation Serif&quot;, serif" font-size="100" font-weight="normal" font-style="normal" fill="#000" stroke="#000" stroke-width="0.7" stroke-linejoin="round" vector-effect="non-scaling-stroke">U</text>
<text transform="translate(1996.32 1223.41) scale(0.2174 0.2721)" font-family="&quot;Liberation Serif&quot;, serif" font-size="100" font-weight="normal" font-style="normal" fill="#000" stroke="#000" stroke-width="0.7" stroke-linejoin="round" vector-effect="non-scaling-stroke">0</text>
<text transform="translate(2005.32 1388.35) scale(0.2838 0.3339)" font-family="&quot;Liberation Serif&quot;, serif" font-size="100" font-weight="normal" font-style="normal" fill="#000" stroke="#000" stroke-width="0.7" stroke-linejoin="round" vector-effect="non-scaling-stroke">C</text>
<path d="M2029.4 1378L2118.7 1378.48" stroke-width="2.8" stroke-linecap="butt" />
<path d="M2113.31 1381.72L2119.2 1378.48L2113.35 1375.18L2112.69 1378.45Z" style="fill:#000;stroke:none"/>
<path d="M2109.71 1383.71L2119.2 1378.48L2109.77 1373.15" stroke-width="3.22" stroke-linecap="round" stroke-linejoin="miter"/>
<path d="M142.85 1667.66L146 1972L523.54 1970.42" stroke-width="4.5" stroke-linejoin="miter"/>
<path d="M148.43 1674.84L142.85 1667.16L137.43 1674.96L142.94 1675.98Z" style="fill:#000;stroke:none"/>
<path d="M154.01 1682.53L142.85 1667.16L132.01 1682.75" stroke-width="5.4" stroke-linecap="round" stroke-linejoin="miter"/>
<path d="M516.32 1975.95L524.04 1970.42L516.28 1964.95L515.22 1970.46Z" style="fill:#000;stroke:none"/>
<path d="M508.6 1981.48L524.04 1970.42L508.51 1959.48" stroke-width="5.4" stroke-linecap="round" stroke-linejoin="miter"/>
<path d="M147.5 1970.8L395 1700.7" stroke-width="7.6" stroke-linecap="butt" />
<path d="M111.8 1786L111.8 1738.42" stroke-width="4.7" stroke-linecap="butt" />
<path d="M118.28 1746.6L111.8 1737.92L105.32 1746.6L111.8 1747.68Z" style="fill:#000;stroke:none"/>
<path d="M122.25 1751.92L111.8 1737.92L101.35 1751.92" stroke-width="5.4" stroke-linecap="round" stroke-linejoin="miter"/>
<text transform="translate(98.03 1836.34) scale(0.3657 0.4169)" font-family="&quot;Liberation Serif&quot;, serif" font-size="100" font-weight="normal" font-style="normal" fill="#000" stroke="#000" stroke-width="2.3" stroke-linejoin="round" vector-effect="non-scaling-stroke">V</text>
<text transform="translate(311.74 2021.96) scale(0.3442 0.3959)" font-family="&quot;Liberation Serif&quot;, serif" font-size="100" font-weight="normal" font-style="normal" fill="#000" stroke="#000" stroke-width="2.3" stroke-linejoin="round" vector-effect="non-scaling-stroke">I</text>
<path d="M331 2008L396.1 2008" stroke-width="5" stroke-linecap="butt" />
<path d="M386.68 2014.77L396.6 2008L386.68 2001.23L385.53 2008Z" style="fill:#000;stroke:none"/>
<path d="M380.6 2018.92L396.6 2008L380.6 1997.08" stroke-width="5.75" stroke-linecap="round" stroke-linejoin="miter"/>
<path d="M579.01 1675.11L584.3 1972L948.89 1971.51" stroke-width="5.5" stroke-linejoin="miter"/>
<path d="M585.08 1682.67L579 1674.61L573.21 1682.89L579.17 1684.1Z" style="fill:#000;stroke:none"/>
<path d="M591.17 1690.74L579 1674.61L567.41 1691.16" stroke-width="6.6" stroke-linecap="round" stroke-linejoin="miter"/>
<path d="M941.23 1977.46L949.39 1971.51L941.21 1965.58L939.9 1971.52Z" style="fill:#000;stroke:none"/>
<path d="M933.06 1983.41L949.39 1971.51L933.03 1959.65" stroke-width="6.6" stroke-linecap="round" stroke-linejoin="miter"/>
<path d="M586.5 1970.5L787.6 1748" stroke-width="9.8" stroke-linecap="butt" />
<path d="M548.9 1846L548.9 1785.51" stroke-width="5.5" stroke-linecap="butt" />
<path d="M556.26 1794.93L548.9 1785.01L541.54 1794.93L548.9 1796.19Z" style="fill:#000;stroke:none"/>
<path d="M560.77 1801.01L548.9 1785.01L537.02 1801.01" stroke-width="6.32" stroke-linecap="round" stroke-linejoin="miter"/>
<text transform="translate(543.03 1891.46) scale(0.3860 0.4264)" font-family="&quot;Liberation Serif&quot;, serif" font-size="100" font-weight="normal" font-style="normal" fill="#000" stroke="#000" stroke-width="2.3" stroke-linejoin="round" vector-effect="non-scaling-stroke">I</text>
<text transform="translate(706.83 2029.72) scale(0.4254 0.4990)" font-family="&quot;Liberation Serif&quot;, serif" font-size="100" font-weight="normal" font-style="normal" fill="#000" stroke="#000" stroke-width="2.3" stroke-linejoin="round" vector-effect="non-scaling-stroke">V</text>
<path d="M746.7 2011L824.4 2011" stroke-width="6" stroke-linecap="butt" />
<path d="M813.74 2018.66L824.9 2011L813.74 2003.34L812.36 2011Z" style="fill:#000;stroke:none"/>
<path d="M806.9 2023.35L824.9 2011L806.9 1998.65" stroke-width="6.9" stroke-linecap="round" stroke-linejoin="miter"/>
<rect x="994" y="1951" width="385" height="41" fill="#e7ebf0"/>
<rect x="959.5" y="1953" width="8" height="76" fill="#eff1f4"/>
<rect x="1153" y="1992" width="114" height="37" fill="#f1f3f6"/>
<rect x="994" y="2021.5" width="152" height="7.5" fill="#e6e9ee"/>
<path d="M1011.97 1671.32L1010.8 1974.5L1366.68 1975.19" stroke-width="6" stroke-linejoin="miter"/>
<path d="M1017.88 1679.01L1011.98 1670.82L1006 1678.97L1011.94 1680.43Z" style="fill:#000;stroke:none"/>
<path d="M1023.79 1687.21L1011.98 1670.82L1000.03 1687.12" stroke-width="7.2" stroke-linecap="round" stroke-linejoin="miter"/>
<path d="M1359 1981.11L1367.18 1975.19L1359.02 1969.23L1357.57 1975.17Z" style="fill:#000;stroke:none"/>
<path d="M1350.82 1987.04L1367.18 1975.19L1350.86 1963.28" stroke-width="7.2" stroke-linecap="round" stroke-linejoin="miter"/>
<path d="M1011.89 1972.09L1014.07 1969.34L1016.26 1966.6L1018.47 1963.87L1020.71 1961.15L1022.96 1958.43L1025.22 1955.73L1027.5 1953.03L1029.8 1950.34L1032.11 1947.66L1034.43 1944.98L1036.76 1942.3L1039.1 1939.63L1041.45 1936.96L1043.81 1934.3L1046.17 1931.63L1048.54 1928.97L1050.91 1926.31L1053.28 1923.65L1055.66 1920.99L1058.03 1918.33L1060.4 1915.66L1062.78 1913L1065.14 1910.32L1067.51 1907.65L1069.86 1904.97L1072.22 1902.29L1074.56 1899.6L1076.89 1896.9L1079.21 1894.2L1081.53 1891.49L1083.82 1888.77L1086.11 1886.04L1088.38 1883.3L1090.63 1880.55L1092.87 1877.79L1095.09 1875.02L1097.28 1872.23L1099.46 1869.43L1101.62 1866.62L1103.75 1863.8L1105.85 1860.96L1107.94 1858.1L1109.99 1855.23L1112.02 1852.34L1114.01 1849.43L1115.98 1846.5L1117.92 1843.56L1119.82 1840.59L1121.69 1837.6L1123.52 1834.6L1125.32 1831.57L1127.08 1828.52L1128.81 1825.45L1130.49 1822.35L1132.13 1819.23L1133.73 1816.08L1135.28 1812.91L1136.79 1809.7L1138.26 1806.47L1139.67 1803.22L1141.04 1799.93L1142.36 1796.61L1143.62 1793.26L1144.83 1789.88L1145.99 1786.46L1147.09 1783.01L1148.14 1779.53L1149.12 1776.01L1150.05 1772.45L1150.92 1768.86L1151.86 1765.35L1153.11 1762.1L1154.9 1759.32L1157.41 1757.19L1160.5 1755.88L1163.88 1755.53L1167.28 1756.2L1170.43 1757.78L1173.09 1760.12L1175.17 1763.07L1176.76 1766.43L1177.93 1770.02L1178.77 1773.68L1179.38 1777.34L1179.86 1780.97L1180.32 1784.56L1180.87 1788.09L1181.6 1791.54L1182.52 1794.91L1183.63 1798.22L1184.91 1801.45L1186.34 1804.62L1187.92 1807.74L1189.61 1810.8L1191.42 1813.82L1193.32 1816.79L1195.3 1819.72L1197.35 1822.62L1199.45 1825.5L1201.61 1828.34L1203.82 1831.14L1206.08 1833.91L1208.4 1836.63L1210.77 1839.31L1213.19 1841.94L1215.67 1844.51L1218.2 1847.03L1220.78 1849.5L1223.42 1851.9L1226.1 1854.23L1228.84 1856.5L1231.63 1858.69L1234.47 1860.81L1237.36 1862.85L1240.3 1864.81L1243.29 1866.69L1246.34 1868.48L1249.43 1870.17L1252.57 1871.77L1255.77 1873.27L1259.01 1874.67L1262.3 1875.97L1265.65 1877.16L1269.04 1878.24L1272.48 1879.2" stroke-width="7.6" stroke-linecap="butt" stroke-linejoin="round"/>
<path d="M980.9 1786L980.9 1731.73" stroke-width="5.5" stroke-linecap="butt" />
<path d="M987.97 1740.53L980.9 1731.23L973.83 1740.53L980.9 1741.79Z" style="fill:#000;stroke:none"/>
<path d="M992.3 1746.23L980.9 1731.23L969.5 1746.23" stroke-width="6.32" stroke-linecap="round" stroke-linejoin="miter"/>
<text transform="translate(974.83 1825.96) scale(0.3621 0.4264)" font-family="&quot;Liberation Serif&quot;, serif" font-size="100" font-weight="normal" font-style="normal" fill="#000" stroke="#000" stroke-width="2.3" stroke-linejoin="round" vector-effect="non-scaling-stroke">I</text>
<text transform="translate(1164.54 2024.32) scale(0.3490 0.4318)" font-family="&quot;Liberation Serif&quot;, serif" font-size="100" font-weight="normal" font-style="normal" fill="#000" stroke="#000" stroke-width="2.3" stroke-linejoin="round" vector-effect="non-scaling-stroke">V</text>
<path d="M1193.4 2007L1247.38 2007" stroke-width="5.5" stroke-linecap="butt" />
<path d="M1237.34 2014.36L1247.88 2007L1237.34 1999.64L1236.07 2007Z" style="fill:#000;stroke:none"/>
<path d="M1230.88 2018.88L1247.88 2007L1230.88 1995.12" stroke-width="6.32" stroke-linecap="round" stroke-linejoin="miter"/>
<path d="M1522 1685.85L1522 1977L1842.55 1977.99" stroke-width="4.2" stroke-linejoin="miter"/>
<path d="M1527.5 1693.09L1522 1685.35L1516.5 1693.09L1522 1694.1Z" style="fill:#000;stroke:none"/>
<path d="M1533 1700.83L1522 1685.35L1511 1700.83" stroke-width="5.04" stroke-linecap="round" stroke-linejoin="miter"/>
<path d="M1835.29 1983.46L1843.05 1977.99L1835.33 1972.46L1834.3 1977.96Z" style="fill:#000;stroke:none"/>
<path d="M1827.54 1988.94L1843.05 1977.99L1827.6 1966.94" stroke-width="5.04" stroke-linecap="round" stroke-linejoin="miter"/>
<path d="M1521.81 1953.55L1526.3 1952.91L1530.81 1952.19L1535.34 1951.4L1539.87 1950.54L1544.42 1949.61L1548.97 1948.61L1553.52 1947.53L1558.07 1946.38L1562.62 1945.16L1567.15 1943.87L1571.68 1942.5L1576.19 1941.05L1580.69 1939.54L1585.16 1937.94L1589.61 1936.27L1594.03 1934.53L1598.42 1932.71L1602.77 1930.81L1607.09 1928.84L1611.36 1926.79L1615.6 1924.66L1619.78 1922.46L1623.91 1920.17L1627.99 1917.81L1632.02 1915.37L1635.98 1912.85L1639.88 1910.25L1643.71 1907.57L1647.47 1904.81L1651.16 1901.97L1654.77 1899.04L1658.3 1896.04L1661.75 1892.95L1665.11 1889.78L1668.38 1886.53L1671.55 1883.2L1674.64 1879.78L1677.62 1876.28L1680.5 1872.7L1683.28 1869.04L1685.96 1865.3L1688.55 1861.48L1691.04 1857.6L1693.44 1853.65L1695.75 1849.63L1697.97 1845.55L1700.1 1841.42L1702.15 1837.22L1704.11 1832.98L1705.99 1828.69L1707.79 1824.35L1709.51 1819.96L1711.16 1815.54L1712.73 1811.08L1714.23 1806.58L1715.65 1802.06L1717.01 1797.51L1718.29 1792.93L1719.51 1788.33L1720.67 1783.71L1721.76 1779.07L1722.8 1774.42L1723.77 1769.76L1724.69 1765.1L1725.55 1760.43L1726.35 1755.76L1727.1 1751.1L1727.81 1746.44L1728.46 1741.78L1729.07 1737.14L1729.63 1732.52L1730.15 1727.91L1730.62 1723.32L1731.06 1718.75L1731.45 1714.22L1731.81 1709.71L1732.14 1705.23" stroke-width="7.2" stroke-linecap="butt" stroke-linejoin="round"/>
<path d="M1490.5 1843.5L1490.5 1792.92" stroke-width="4.7" stroke-linecap="butt" />
<path d="M1496.98 1801.1L1490.5 1792.42L1484.02 1801.1L1490.5 1802.18Z" style="fill:#000;stroke:none"/>
<path d="M1500.95 1806.42L1490.5 1792.42L1480.05 1806.42" stroke-width="5.4" stroke-linecap="round" stroke-linejoin="miter"/>
<text transform="translate(1481.74 1880.51) scale(0.3166 0.3931)" font-family="&quot;Liberation Serif&quot;, serif" font-size="100" font-weight="normal" font-style="normal" fill="#000" stroke="#000" stroke-width="2.3" stroke-linejoin="round" vector-effect="non-scaling-stroke">ρ</text>
<text transform="translate(1626.63 2023.37) scale(0.3825 0.4173)" font-family="&quot;Liberation Serif&quot;, serif" font-size="100" font-weight="normal" font-style="normal" fill="#000" stroke="#000" stroke-width="2.3" stroke-linejoin="round" vector-effect="non-scaling-stroke">T</text>
<path d="M1659.4 2009.7L1707.2 2009.7" stroke-width="5" stroke-linecap="butt" />
<path d="M1697.78 2016.47L1707.7 2009.7L1697.78 2002.93L1696.63 2009.7Z" style="fill:#000;stroke:none"/>
<path d="M1691.7 2020.62L1707.7 2009.7L1691.7 1998.78" stroke-width="5.75" stroke-linecap="round" stroke-linejoin="miter"/>
<path d="M2028.11 1661.73L2028.6 1980.2L2377.77 1979.22" stroke-width="5" stroke-linejoin="miter"/>
<path d="M2033.84 1669.39L2028.11 1661.23L2022.4 1669.41L2028.12 1670.6Z" style="fill:#000;stroke:none"/>
<path d="M2039.57 1677.55L2028.11 1661.23L2016.69 1677.59" stroke-width="6" stroke-linecap="round" stroke-linejoin="miter"/>
<path d="M2370.12 1984.96L2378.27 1979.21L2370.08 1973.52L2368.9 1979.24Z" style="fill:#000;stroke:none"/>
<path d="M2361.96 1990.7L2378.27 1979.21L2361.9 1967.82" stroke-width="6" stroke-linecap="round" stroke-linejoin="miter"/>
<path d="M2065.46 1674.04L2065.64 1678.82L2065.89 1683.61L2066.21 1688.41L2066.6 1693.21L2067.05 1698.02L2067.58 1702.83L2068.18 1707.64L2068.86 1712.45L2069.6 1717.25L2070.42 1722.04L2071.32 1726.82L2072.28 1731.59L2073.33 1736.35L2074.45 1741.09L2075.64 1745.82L2076.91 1750.52L2078.26 1755.2L2079.69 1759.86L2081.19 1764.49L2082.78 1769.1L2084.44 1773.67L2086.19 1778.21L2088.02 1782.71L2089.93 1787.18L2091.91 1791.61L2093.98 1795.99L2096.13 1800.34L2098.36 1804.64L2100.67 1808.9L2103.05 1813.11L2105.51 1817.27L2108.05 1821.38L2110.67 1825.43L2113.35 1829.44L2116.12 1833.38L2118.96 1837.27L2121.87 1841.11L2124.86 1844.88L2127.91 1848.58L2131.04 1852.23L2134.24 1855.8L2137.51 1859.31L2140.86 1862.75L2144.27 1866.12L2147.75 1869.42L2151.29 1872.64L2154.91 1875.78L2158.59 1878.85L2162.34 1881.84L2166.15 1884.75L2170.02 1887.58L2173.95 1890.34L2177.95 1893.02L2181.99 1895.62L2186.09 1898.14L2190.24 1900.58L2194.45 1902.95L2198.7 1905.24L2203 1907.46L2207.34 1909.6L2211.72 1911.66L2216.15 1913.64L2220.61 1915.55L2225.12 1917.39L2229.65 1919.14L2234.22 1920.83L2238.82 1922.43L2243.45 1923.96L2248.11 1925.42L2252.79 1926.8L2257.5 1928.11L2262.23 1929.34L2266.97 1930.5L2271.74 1931.58L2276.52 1932.59L2281.32 1933.53L2286.12 1934.39L2290.94 1935.18L2295.77 1935.9L2300.6 1936.54L2305.44 1937.11L2310.28 1937.6L2315.12 1938.03L2319.96 1938.38L2324.8 1938.66L2329.63 1938.87L2334.45 1939L2339.27 1939.06L2344.07 1939.05L2348.86 1938.97L2353.64 1938.82L2358.4 1938.6L2363.14 1938.31L2367.87 1937.94L2372.57 1937.51" stroke-width="7.5" stroke-linecap="butt" stroke-linejoin="round"/>
<text transform="rotate(-90 2011 1968.3) translate(2011.99 1967.31) scale(0.4574 0.4202)" font-family="&quot;Liberation Serif&quot;, serif" font-size="100" font-weight="normal" font-style="normal" fill="#000" stroke="#000" stroke-width="2.2" stroke-linejoin="round" vector-effect="non-scaling-stroke">Resistance</text>
<path d="M1994.2 1759.5L1994.2 1703.85" stroke-width="5" stroke-linecap="butt" />
<path d="M2001.27 1712.65L1994.2 1703.35L1987.13 1712.65L1994.2 1713.8Z" style="fill:#000;stroke:none"/>
<path d="M2005.6 1718.35L1994.2 1703.35L1982.8 1718.35" stroke-width="5.75" stroke-linecap="round" stroke-linejoin="miter"/>
<text transform="translate(2074.39 2033.51) scale(0.4245 0.4217)" font-family="&quot;Liberation Serif&quot;, serif" font-size="100" font-weight="normal" font-style="normal" fill="#000" stroke="#000" stroke-width="2.2" stroke-linejoin="round" vector-effect="non-scaling-stroke">Diameter</text>
<path d="M2241.7 2016.2L2297.25 2016.2" stroke-width="5" stroke-linecap="butt" />
<path d="M2287.83 2023.27L2297.75 2016.2L2287.83 2009.13L2286.68 2016.2Z" style="fill:#000;stroke:none"/>
<path d="M2281.75 2027.6L2297.75 2016.2L2281.75 2004.8" stroke-width="5.75" stroke-linecap="round" stroke-linejoin="miter"/>
<svg x="60" y="2180" width="455.5" height="360" viewBox="60 2180 455.5 360" overflow="hidden">
<path d="M140.76 2208.43L144.5 2518.5L520.97 2515.64" stroke-width="4.5" stroke-linejoin="miter"/>
<path d="M147.24 2216.45L140.75 2207.93L134.48 2216.61L140.87 2217.61Z" style="fill:#000;stroke:none"/>
<path d="M153.72 2224.98L140.75 2207.93L128.2 2225.28" stroke-width="5.4" stroke-linecap="round" stroke-linejoin="miter"/>
<path d="M512.92 2522.08L521.47 2515.63L512.82 2509.32L511.79 2515.71Z" style="fill:#000;stroke:none"/>
<path d="M504.37 2528.52L521.47 2515.63L504.17 2503.01" stroke-width="5.4" stroke-linecap="round" stroke-linejoin="miter"/>
</svg>
<path d="M146.5 2517.5L417 2264.5" stroke-width="8" stroke-linecap="butt" />
<path d="M110 2330L110 2280.02" stroke-width="4.7" stroke-linecap="butt" />
<path d="M116.48 2288.2L110 2279.52L103.52 2288.2L110 2289.28Z" style="fill:#000;stroke:none"/>
<path d="M120.45 2293.52L110 2279.52L99.55 2293.52" stroke-width="5.4" stroke-linecap="round" stroke-linejoin="miter"/>
<text transform="translate(103.53 2364.01) scale(0.3286 0.3931)" font-family="&quot;Liberation Serif&quot;, serif" font-size="100" font-weight="normal" font-style="normal" fill="#000" stroke="#000" stroke-width="2.3" stroke-linejoin="round" vector-effect="non-scaling-stroke">ρ</text>
<text transform="translate(288.84 2568.66) scale(0.3857 0.4264)" font-family="&quot;Liberation Serif&quot;, serif" font-size="100" font-weight="normal" font-style="normal" fill="#000" stroke="#000" stroke-width="2.3" stroke-linejoin="round" vector-effect="non-scaling-stroke">T</text>
<path d="M318.9 2554.4L383 2554.4" stroke-width="5" stroke-linecap="butt" />
<path d="M373.58 2561.17L383.5 2554.4L373.58 2547.63L372.43 2554.4Z" style="fill:#000;stroke:none"/>
<path d="M367.5 2565.33L383.5 2554.4L367.5 2543.47" stroke-width="5.75" stroke-linecap="round" stroke-linejoin="miter"/>
<text transform="translate(258.29 2617.71) scale(0.3983 0.4690)" font-family="&quot;Liberation Serif&quot;, serif" font-size="100" font-weight="normal" font-style="normal" fill="#000" stroke="#000" stroke-width="2.2" stroke-linejoin="round" vector-effect="non-scaling-stroke">Nichrome</text>
<path d="M562.66 2202.85L573 2518L915.15 2528.65" stroke-width="4.2" stroke-linejoin="miter"/>
<path d="M568.39 2209.9L562.64 2202.35L557.4 2210.26L562.93 2211.09Z" style="fill:#000;stroke:none"/>
<path d="M574.14 2217.46L562.64 2202.35L552.16 2218.18" stroke-width="5.04" stroke-linecap="round" stroke-linejoin="miter"/>
<path d="M907.74 2533.92L915.65 2528.66L908.09 2522.93L906.91 2528.39Z" style="fill:#000;stroke:none"/>
<path d="M899.84 2539.18L915.65 2528.66L900.52 2517.19" stroke-width="5.04" stroke-linecap="round" stroke-linejoin="miter"/>
<path d="M627.33 2244.99L627.41 2249.75L627.6 2254.49L627.89 2259.21L628.28 2263.92L628.77 2268.61L629.37 2273.27L630.06 2277.92L630.86 2282.54L631.75 2287.13L632.73 2291.7L633.82 2296.24L634.99 2300.75L636.26 2305.23L637.62 2309.68L639.08 2314.1L640.62 2318.48L642.25 2322.83L643.97 2327.14L645.78 2331.41L647.67 2335.64L649.64 2339.84L651.7 2343.98L653.84 2348.09L656.07 2352.15L658.37 2356.16L660.75 2360.13L663.21 2364.05L665.75 2367.92L668.36 2371.73L671.05 2375.49L673.81 2379.2L676.64 2382.86L679.55 2386.45L682.53 2389.99L685.57 2393.47L688.69 2396.88L691.87 2400.24L695.11 2403.53L698.43 2406.76L701.8 2409.92L705.24 2413.01L708.74 2416.03L712.31 2418.98L715.93 2421.87L719.61 2424.68L723.34 2427.42L727.13 2430.08L730.97 2432.68L734.86 2435.2L738.81 2437.65L742.8 2440.02L746.83 2442.32L750.91 2444.54L755.03 2446.69L759.2 2448.76L763.4 2450.76L767.64 2452.68L771.92 2454.52L776.23 2456.29L780.57 2457.98L784.95 2459.59L789.35 2461.12L793.78 2462.57L798.24 2463.94L802.72 2465.23L807.23 2466.44L811.75 2467.57L816.3 2468.62L820.86 2469.59L825.44 2470.47L830.03 2471.27L834.64 2471.99L839.26 2472.63L843.88 2473.18L848.52 2473.64L853.16 2474.02L857.8 2474.32L862.45 2474.53L867.1 2474.65L871.75 2474.69L876.4 2474.64L881.04 2474.51L885.67 2474.28" stroke-width="7.2" stroke-linecap="butt" stroke-linejoin="round"/>
<path d="M533 2373.5L533 2318.75" stroke-width="5" stroke-linecap="butt" />
<path d="M540.07 2327.55L533 2318.25L525.93 2327.55L533 2328.7Z" style="fill:#000;stroke:none"/>
<path d="M544.4 2333.25L533 2318.25L521.6 2333.25" stroke-width="5.75" stroke-linecap="round" stroke-linejoin="miter"/>
<text transform="translate(525.43 2409.43) scale(0.3506 0.4340)" font-family="&quot;Liberation Serif&quot;, serif" font-size="100" font-weight="normal" font-style="normal" fill="#000" stroke="#000" stroke-width="2.3" stroke-linejoin="round" vector-effect="non-scaling-stroke">ρ</text>
<text transform="translate(705.24 2565.97) scale(0.3956 0.4264)" font-family="&quot;Liberation Serif&quot;, serif" font-size="100" font-weight="normal" font-style="normal" fill="#000" stroke="#000" stroke-width="2.3" stroke-linejoin="round" vector-effect="non-scaling-stroke">T</text>
<path d="M744 2553.3L798.4 2553.3" stroke-width="5" stroke-linecap="butt" />
<path d="M788.98 2560.07L798.9 2553.3L788.98 2546.53L787.83 2553.3Z" style="fill:#000;stroke:none"/>
<path d="M782.9 2564.23L798.9 2553.3L782.9 2542.38" stroke-width="5.75" stroke-linecap="round" stroke-linejoin="miter"/>
<text transform="translate(697.59 2622.55) scale(0.4159 0.4555)" font-family="&quot;Liberation Serif&quot;, serif" font-size="100" font-weight="normal" font-style="normal" fill="#000" stroke="#000" stroke-width="2.2" stroke-linejoin="round" vector-effect="non-scaling-stroke">Silicon</text>
<path d="M995.51 2178.23L1002 2528.5L1417.47 2527.91" stroke-width="5" stroke-linejoin="miter"/>
<path d="M1001.37 2185.79L995.5 2177.73L989.93 2186L995.67 2187.1Z" style="fill:#000;stroke:none"/>
<path d="M1007.24 2193.86L995.5 2177.73L984.36 2194.28" stroke-width="6" stroke-linecap="round" stroke-linejoin="miter"/>
<path d="M1409.81 2533.64L1417.97 2527.91L1409.79 2522.2L1408.6 2527.92Z" style="fill:#000;stroke:none"/>
<path d="M1401.65 2539.37L1417.97 2527.91L1401.61 2516.49" stroke-width="6" stroke-linecap="round" stroke-linejoin="miter"/>
<path d="M1004 2526.5L1270.6 2239" stroke-width="8.5" stroke-linecap="butt" />
<path d="M961 2315.3L961 2260.11" stroke-width="5.5" stroke-linecap="butt" />
<path d="M968.36 2269.53L961 2259.61L953.64 2269.53L961 2270.79Z" style="fill:#000;stroke:none"/>
<path d="M972.88 2275.61L961 2259.61L949.12 2275.61" stroke-width="6.32" stroke-linecap="round" stroke-linejoin="miter"/>
<text transform="translate(950.03 2359.96) scale(0.3324 0.4004)" font-family="&quot;Liberation Serif&quot;, serif" font-size="100" font-weight="normal" font-style="normal" fill="#000" stroke="#000" stroke-width="2.3" stroke-linejoin="round" vector-effect="non-scaling-stroke">V</text>
<text transform="translate(1179.04 2586.77) scale(0.3919 0.5089)" font-family="&quot;Liberation Serif&quot;, serif" font-size="100" font-weight="normal" font-style="normal" fill="#000" stroke="#000" stroke-width="2.3" stroke-linejoin="round" vector-effect="non-scaling-stroke">I</text>
<path d="M1204 2568.7L1280.91 2568.7" stroke-width="5.5" stroke-linecap="butt" />
<path d="M1270.25 2576.36L1281.41 2568.7L1270.25 2561.04L1268.99 2568.7Z" style="fill:#000;stroke:none"/>
<path d="M1263.41 2581.05L1281.41 2568.7L1263.41 2556.35" stroke-width="6.32" stroke-linecap="round" stroke-linejoin="miter"/>
<path d="M1490.16 2166.86L1500.5 2514.5L1903.74 2516.97" stroke-width="4.6" stroke-linejoin="miter"/>
<path d="M1495.87 2173.94L1490.14 2166.36L1484.87 2174.26L1490.4 2175.2Z" style="fill:#000;stroke:none"/>
<path d="M1501.6 2181.51L1490.14 2166.36L1479.61 2182.16" stroke-width="5.52" stroke-linecap="round" stroke-linejoin="miter"/>
<path d="M1896.46 2522.42L1904.24 2516.97L1896.53 2511.42L1895.39 2516.92Z" style="fill:#000;stroke:none"/>
<path d="M1888.69 2527.88L1904.24 2516.97L1888.82 2505.88" stroke-width="5.52" stroke-linecap="round" stroke-linejoin="miter"/>
<path d="M1503.7 2512.75L1507.39 2508.87L1511.08 2505L1514.78 2501.15L1518.48 2497.31L1522.19 2493.48L1525.9 2489.67L1529.62 2485.87L1533.34 2482.09L1537.08 2478.32L1540.82 2474.57L1544.57 2470.83L1548.33 2467.11L1552.1 2463.41L1555.89 2459.73L1559.69 2456.07L1563.5 2452.42L1567.33 2448.79L1571.17 2445.19L1575.02 2441.6L1578.9 2438.03L1582.79 2434.49L1586.7 2430.97L1590.63 2427.46L1594.58 2423.99L1598.56 2420.53L1602.55 2417.1L1606.57 2413.69L1610.61 2410.31L1614.67 2406.95L1618.76 2403.61L1622.88 2400.31L1627.02 2397.03L1631.19 2393.77L1635.39 2390.54L1639.62 2387.34L1643.88 2384.17L1648.17 2381.03L1652.49 2377.91L1656.84 2374.83L1661.23 2371.78L1665.65 2368.76L1670.1 2365.79L1674.59 2362.85L1679.11 2359.97L1683.66 2357.13L1688.24 2354.35L1692.86 2351.63L1697.51 2348.97L1702.19 2346.37L1706.9 2343.85L1711.65 2341.39L1716.43 2339.02L1721.24 2336.72L1726.08 2334.51L1730.96 2332.39L1735.87 2330.36L1740.81 2328.42L1745.78 2326.58L1750.78 2324.85L1755.82 2323.22L1760.89 2321.7L1765.99 2320.3L1771.11 2319.03L1776.25 2317.89L1781.41 2316.89L1786.58 2316.04L1791.77 2315.35L1796.97 2314.81L1802.17 2314.45L1807.37 2314.27L1812.57 2314.27L1817.77 2314.46L1822.96 2314.85L1828.14 2315.45L1833.3 2316.27L1838.45 2317.3L1843.57 2318.56L1848.67 2320.06L1853.75 2321.81L1858.79 2323.8L1863.8 2326.06L1868.78 2328.58L1873.71 2331.37" stroke-width="8.6" stroke-linecap="butt" stroke-linejoin="round"/>
<path d="M1464 2345.3L1464 2288.41" stroke-width="5.5" stroke-linecap="butt" />
<path d="M1471.36 2297.83L1464 2287.91L1456.64 2297.83L1464 2299.09Z" style="fill:#000;stroke:none"/>
<path d="M1475.88 2303.91L1464 2287.91L1452.12 2303.91" stroke-width="6.32" stroke-linecap="round" stroke-linejoin="miter"/>
<text transform="translate(1461.04 2392.97) scale(0.3263 0.4875)" font-family="&quot;Liberation Serif&quot;, serif" font-size="100" font-weight="normal" font-style="normal" fill="#000" stroke="#000" stroke-width="2.3" stroke-linejoin="round" vector-effect="non-scaling-stroke">I</text>
<text transform="translate(1661.04 2569.84) scale(0.3532 0.4169)" font-family="&quot;Liberation Serif&quot;, serif" font-size="100" font-weight="normal" font-style="normal" fill="#000" stroke="#000" stroke-width="2.3" stroke-linejoin="round" vector-effect="non-scaling-stroke">V</text>
<path d="M1698.4 2556.7L1771.41 2556.7" stroke-width="5.5" stroke-linecap="butt" />
<path d="M1760.75 2564.36L1771.91 2556.7L1760.75 2549.04L1759.49 2556.7Z" style="fill:#000;stroke:none"/>
<path d="M1753.91 2569.05L1771.91 2556.7L1753.91 2544.35" stroke-width="6.32" stroke-linecap="round" stroke-linejoin="miter"/>
<path d="M1995.13 2169.53L2003 2518.3L2382.97 2517.02" stroke-width="5" stroke-linejoin="miter"/>
<path d="M2001.02 2177.07L1995.12 2169.03L1989.58 2177.33L1995.33 2178.4Z" style="fill:#000;stroke:none"/>
<path d="M2006.92 2185.11L1995.12 2169.03L1984.05 2185.62" stroke-width="6" stroke-linecap="round" stroke-linejoin="miter"/>
<path d="M2375.32 2522.77L2383.47 2517.02L2375.28 2511.33L2374.1 2517.05Z" style="fill:#000;stroke:none"/>
<path d="M2367.17 2528.51L2383.47 2517.02L2367.09 2505.63" stroke-width="6" stroke-linecap="round" stroke-linejoin="miter"/>
<path d="M1997.5 2264L2251.3 2517" stroke-width="9" stroke-linecap="butt" />
<path d="M1959.7 2356.2L1959.7 2296.61" stroke-width="5.5" stroke-linecap="butt" />
<path d="M1967.06 2306.03L1959.7 2296.11L1952.34 2306.03L1959.7 2307.29Z" style="fill:#000;stroke:none"/>
<path d="M1971.58 2312.11L1959.7 2296.11L1947.83 2312.11" stroke-width="6.32" stroke-linecap="round" stroke-linejoin="miter"/>
<text transform="translate(1946.04 2410.51) scale(0.4018 0.5064)" font-family="&quot;Liberation Serif&quot;, serif" font-size="100" font-weight="normal" font-style="normal" fill="#000" stroke="#000" stroke-width="2.3" stroke-linejoin="round" vector-effect="non-scaling-stroke">V</text>
<text transform="translate(2165.03 2572.97) scale(0.3472 0.4890)" font-family="&quot;Liberation Serif&quot;, serif" font-size="100" font-weight="normal" font-style="normal" fill="#000" stroke="#000" stroke-width="2.3" stroke-linejoin="round" vector-effect="non-scaling-stroke">I</text>
<path d="M2187 2554L2247.91 2554" stroke-width="5.5" stroke-linecap="butt" />
<path d="M2237.25 2561.66L2248.41 2554L2237.25 2546.34L2235.99 2554Z" style="fill:#000;stroke:none"/>
<path d="M2230.41 2566.35L2248.41 2554L2230.41 2541.65" stroke-width="6.32" stroke-linecap="round" stroke-linejoin="miter"/>
<path d="M891.89 2742.16L897.2 3063.5L1264.34 3062.02" stroke-width="4.5" stroke-linejoin="miter"/>
<path d="M897.5 2749.31L891.88 2741.66L886.51 2749.49L892.02 2750.48Z" style="fill:#000;stroke:none"/>
<path d="M903.13 2756.96L891.88 2741.66L881.13 2757.32" stroke-width="5.4" stroke-linecap="round" stroke-linejoin="miter"/>
<path d="M1257.12 3067.55L1264.84 3062.02L1257.08 3056.55L1256.02 3062.05Z" style="fill:#000;stroke:none"/>
<path d="M1249.4 3073.08L1264.84 3062.02L1249.31 3051.08" stroke-width="5.4" stroke-linecap="round" stroke-linejoin="miter"/>
<path d="M896.6 2900L1234.4 2900" stroke-width="8" stroke-linecap="butt" />
<path d="M862 2892L862 2840.11" stroke-width="5" stroke-linecap="butt" />
<path d="M868.48 2848.29L862 2839.61L855.52 2848.29L862 2849.44Z" style="fill:#000;stroke:none"/>
<path d="M872.45 2853.61L862 2839.61L851.55 2853.61" stroke-width="5.75" stroke-linecap="round" stroke-linejoin="miter"/>
<text transform="translate(852.33 2939.57) scale(0.3628 0.4508)" font-family="&quot;Liberation Serif&quot;, serif" font-size="100" font-weight="normal" font-style="normal" fill="#000" stroke="#000" stroke-width="2.3" stroke-linejoin="round" vector-effect="non-scaling-stroke">E</text>
<text transform="translate(1045.74 3114.77) scale(0.3467 0.4478)" font-family="&quot;Liberation Serif&quot;, serif" font-size="100" font-weight="normal" font-style="normal" fill="#000" stroke="#000" stroke-width="2.3" stroke-linejoin="round" vector-effect="non-scaling-stroke">R</text>
<path d="M1077.3 3099.5L1143 3099.5" stroke-width="5" stroke-linecap="butt" />
<path d="M1133.58 3106.27L1143.5 3099.5L1133.58 3092.73L1132.43 3099.5Z" style="fill:#000;stroke:none"/>
<path d="M1127.5 3110.43L1143.5 3099.5L1127.5 3088.57" stroke-width="5.75" stroke-linecap="round" stroke-linejoin="miter"/>
<path d="M1408.48 2763.18L1412.8 3060L1613.7 3058.8L1720.03 3051.39" stroke-width="5" stroke-linejoin="miter"/>
<path d="M1414.09 2770.34L1408.48 2762.68L1403.09 2770.5L1408.61 2771.62Z" style="fill:#000;stroke:none"/>
<path d="M1419.7 2778L1408.48 2762.68L1397.7 2778.32" stroke-width="6" stroke-linecap="round" stroke-linejoin="miter"/>
<path d="M1713.19 3057.38L1720.53 3051.36L1712.43 3046.41L1711.61 3051.98Z" style="fill:#000;stroke:none"/>
<path d="M1705.85 3063.41L1720.53 3051.36L1704.33 3041.46" stroke-width="6" stroke-linecap="round" stroke-linejoin="miter"/>
<path d="M1415.6 3056.95L1417.6 3052.53L1419.7 3048.15L1421.88 3043.81L1424.14 3039.52L1426.49 3035.28L1428.92 3031.08L1431.42 3026.93L1434.01 3022.83L1436.67 3018.78L1439.41 3014.78L1442.22 3010.82L1445.1 3006.92L1448.05 3003.06L1451.07 2999.26L1454.16 2995.5L1457.31 2991.8L1460.53 2988.14L1463.81 2984.54L1467.15 2980.99L1470.55 2977.49L1474.01 2974.05L1477.52 2970.66L1481.09 2967.32L1484.72 2964.04L1488.39 2960.81L1492.11 2957.63L1495.89 2954.51L1499.71 2951.45L1503.57 2948.44L1507.48 2945.48L1511.43 2942.59L1515.42 2939.75L1519.45 2936.97L1523.52 2934.24L1527.63 2931.57L1531.77 2928.97L1535.94 2926.42L1540.14 2923.93L1544.38 2921.5L1548.64 2919.13L1552.94 2916.82L1557.26 2914.58L1561.61 2912.4L1565.99 2910.3L1570.4 2908.26L1574.83 2906.29L1579.3 2904.39L1583.78 2902.57L1588.3 2900.82L1592.84 2899.15L1597.41 2897.56L1602 2896.05L1606.62 2894.62L1611.26 2893.27L1615.93 2892.01L1620.62 2890.84L1625.33 2889.75L1630.06 2888.75L1634.82 2887.84L1639.6 2887.02L1644.41 2886.3L1649.23 2885.67L1654.08 2885.14L1658.94 2884.71L1663.83 2884.38L1668.73 2884.14L1673.65 2884.01L1678.59 2883.98L1683.55 2884.05L1688.52 2884.22L1693.51 2884.5" stroke-width="8" stroke-linecap="butt" stroke-linejoin="round"/>
<path d="M1377 2924L1377 2872.11" stroke-width="5" stroke-linecap="butt" />
<path d="M1383.48 2880.29L1377 2871.61L1370.52 2880.29L1377 2881.44Z" style="fill:#000;stroke:none"/>
<path d="M1387.45 2885.61L1377 2871.61L1366.55 2885.61" stroke-width="5.75" stroke-linecap="round" stroke-linejoin="miter"/>
<text transform="translate(1364.04 2966.06) scale(0.3671 0.4019)" font-family="&quot;Liberation Serif&quot;, serif" font-size="100" font-weight="normal" font-style="normal" fill="#000" stroke="#000" stroke-width="2.3" stroke-linejoin="round" vector-effect="non-scaling-stroke">V</text>
<text transform="translate(1535.04 3106.97) scale(0.3646 0.3959)" font-family="&quot;Liberation Serif&quot;, serif" font-size="100" font-weight="normal" font-style="normal" fill="#000" stroke="#000" stroke-width="2.3" stroke-linejoin="round" vector-effect="non-scaling-stroke">R</text>
<path d="M1568.6 3088.6L1616.1 3088.6" stroke-width="5" stroke-linecap="butt" />
<path d="M1606.68 3095.37L1616.6 3088.6L1606.68 3081.83L1605.53 3088.6Z" style="fill:#000;stroke:none"/>
<path d="M1600.6 3099.53L1616.6 3088.6L1600.6 3077.67" stroke-width="5.75" stroke-linecap="round" stroke-linejoin="miter"/>
</svg>
</body>
</html>
